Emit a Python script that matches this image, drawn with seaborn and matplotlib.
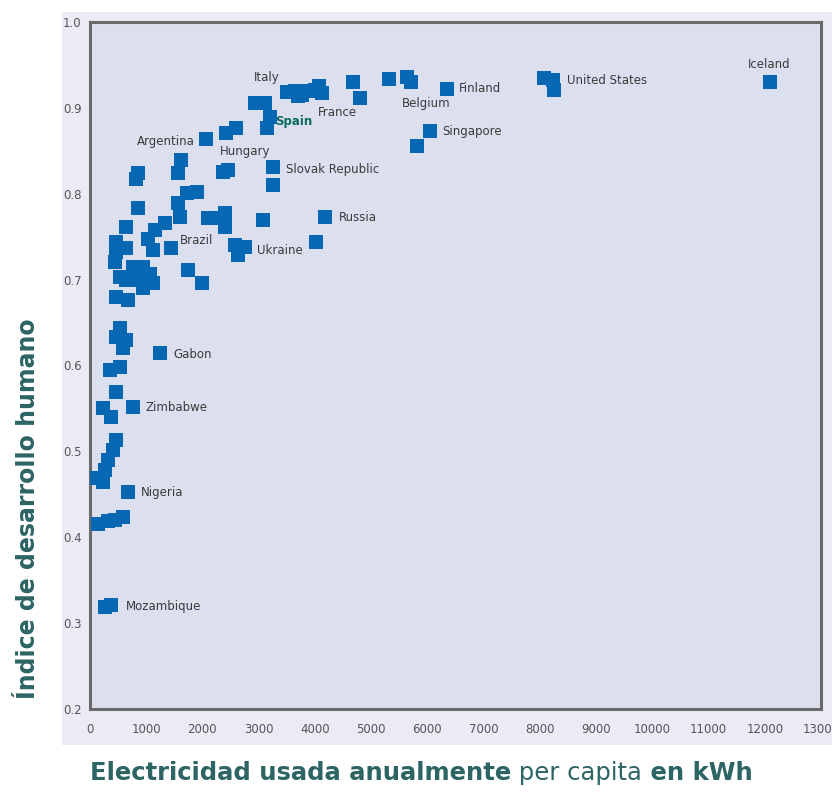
import matplotlib
matplotlib.use("Agg")
import matplotlib.pyplot as plt
from matplotlib.patches import Rectangle
import pandas as pd
import seaborn as sns

# electricity use per capita (kWh) and human development index
electricity = [
    2930, 3108, 3197, 3144, 3499, 3641, 3765, 3872, 3996, 4067, 4120, 3694,
    4671, 4795, 5310, 5630, 5701, 6340, 6038, 5808, 8081, 8241, 8258, 12095,
    2060, 2415, 2593, 1616, 1563, 852, 817, 2362, 2451, 3250, 3250, 1723,
    1900, 1563, 1598, 852, 2096, 2238, 2398, 2398, 3072, 4174, 4014, 2575,
    2753, 2628, 1439, 1332, 1154, 1030, 1119, 639, 462, 462, 444, 639,
    764, 941, 1066, 888, 639, 533, 1119, 941, 462, 675, 1740, 1989,
    533, 462, 639, 586, 1243, 355, 533, 462, 764, 231, 373, 462,
    408, 320, 266, 107, 231, 675, 142, 320, 444, 586, 266, 373,
]
hdi = [
    0.906, 0.906, 0.889, 0.877, 0.918, 0.920, 0.915, 0.920, 0.921, 0.925, 0.917, 0.914,
    0.930, 0.912, 0.934, 0.936, 0.930, 0.922, 0.873, 0.856, 0.935, 0.932, 0.921, 0.930,
    0.864, 0.871, 0.877, 0.839, 0.824, 0.824, 0.817, 0.825, 0.828, 0.831, 0.810, 0.801,
    0.802, 0.789, 0.773, 0.783, 0.772, 0.772, 0.778, 0.761, 0.769, 0.773, 0.744, 0.740,
    0.738, 0.729, 0.737, 0.766, 0.758, 0.747, 0.734, 0.761, 0.744, 0.732, 0.721, 0.737,
    0.715, 0.715, 0.707, 0.700, 0.700, 0.703, 0.696, 0.690, 0.680, 0.676, 0.711, 0.696,
    0.644, 0.633, 0.630, 0.620, 0.615, 0.595, 0.598, 0.569, 0.552, 0.551, 0.540, 0.513,
    0.502, 0.490, 0.478, 0.469, 0.464, 0.453, 0.415, 0.419, 0.420, 0.424, 0.319, 0.321,
]

# country labels: text, anchor x, anchor y, horizontal alignment
label_names = ["Italy", "France", "Belgium", "Finland", "Singapore", "United States",
               "Iceland", "Argentina", "Hungary", "Slovak Republic", "Russia", "Brazil",
               "Ukraine", "Gabon", "Zimbabwe", "Nigeria", "Mozambique"]
label_x = [3136, 4404, 5985, 6553, 6269, 8489, 12077, 1865, 2309, 3481, 4422, 1598,
           2966, 1492, 995, 906, 639]
label_y = [0.935, 0.895, 0.905, 0.922, 0.872, 0.932, 0.950, 0.861, 0.849, 0.828, 0.772,
           0.746, 0.734, 0.613, 0.551, 0.452, 0.319]
label_ha = ["center", "center", "center", "left", "left", "left", "center", "right",
            "left", "left", "left", "left", "left", "left", "left", "left", "left"]

x_ticks = list(range(0, 13001, 1000))
y_ticks = [0.2, 0.3, 0.4, 0.5, 0.6, 0.7, 0.8, 0.9, 1.0]

df = pd.DataFrame({"kwh": electricity, "hdi": hdi})

sns.set_style("white")
plt.rcParams["font.family"] = ["DejaVu Sans"]

fig = plt.figure(figsize=(8.32, 7.98), dpi=100)
fig.patch.set_facecolor("white")
# light panel behind the plot
fig.patches.append(Rectangle((0.0745, 0.0664), 0.9255, 0.9185, transform=fig.transFigure,
                             facecolor="#eaebf4", edgecolor="none", zorder=-10))

ax = fig.add_axes([0.108, 0.1115, 0.879, 0.861])
ax.set_zorder(1)
ax.set_facecolor("#dcdfee")

sns.scatterplot(data=df, x="kwh", y="hdi", marker="s", s=105, color="#0767b3",
                linewidth=0, ax=ax, zorder=3)

narrow = ["Liberation Sans Narrow", "DejaVu Sans"]
for name, lx, ly, ha in zip(label_names, label_x, label_y, label_ha):
    ax.text(lx, ly, name, ha=ha, va="center", fontsize=8.5, color="#3a3a3a",
            family=narrow, zorder=4)
ax.text(3286, 0.884, "Spain", ha="left", va="center", fontsize=8.5, color="#0c6b5f",
        fontweight="bold", zorder=4)

ax.set_xlim(0, 13000)
ax.set_ylim(0.2, 1.0)
ax.set_xticks(x_ticks)
ax.set_yticks(y_ticks)
ax.set_xticklabels([str(t) for t in x_ticks], family=narrow)
ax.set_yticklabels([f"{t:.1f}" for t in y_ticks], family=narrow)
ax.tick_params(axis="both", direction="in", length=6, width=1.3, color="#555555",
               labelsize=8.5, labelcolor="#555555")
ax.tick_params(axis="x", pad=10)
ax.tick_params(axis="y", pad=6)
for side in ["left", "bottom", "top", "right"]:
    ax.spines[side].set_color("#6a6a6a")
    ax.spines[side].set_linewidth(2.2)
ax.set_xlabel("")
ax.set_ylabel("")

teal = "#2d6464"
fig.text(0.034, 0.362, "Índice de desarrollo humano", rotation=90, ha="center", va="center",
         fontsize=17, fontweight="bold", color=teal)

t1 = fig.text(0.108, 0.0225, "Electricidad usada anualmente", ha="left", va="baseline",
              fontsize=17.5, fontweight="bold", color=teal)
t2 = ax.annotate(" per capita", xy=(1, 0), xycoords=t1, va="bottom", ha="left",
                 fontsize=17.5, color=teal, annotation_clip=False)
ax.annotate(" en kWh", xy=(1, 0), xycoords=t2, va="bottom", ha="left",
            fontsize=17.5, fontweight="bold", color=teal, annotation_clip=False)

fig.savefig("out.png", dpi=100)
